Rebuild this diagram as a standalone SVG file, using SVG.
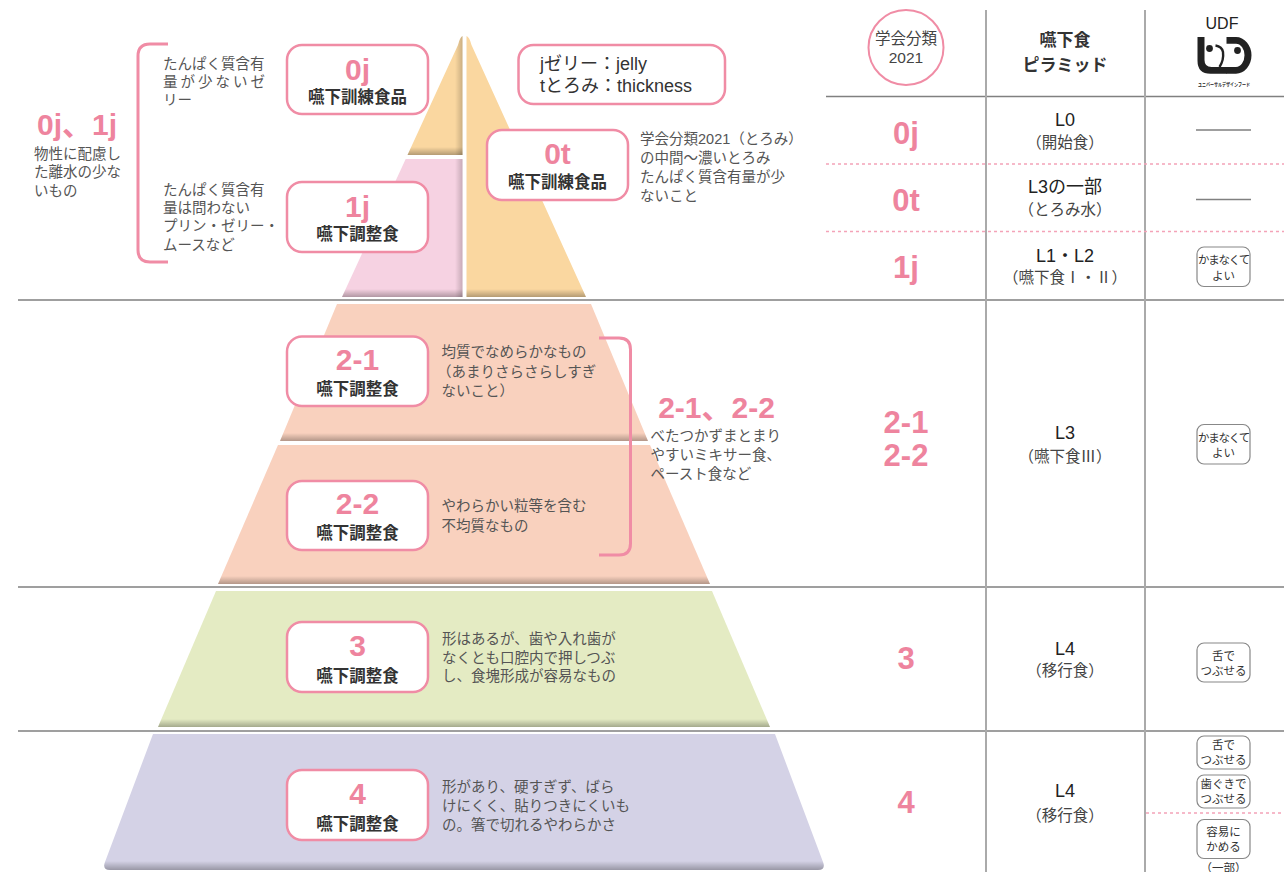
<svg xmlns="http://www.w3.org/2000/svg" width="1284" height="872" viewBox="0 0 1284 872">
<style>
.num{font-family:"Liberation Sans","Noto Sans CJK JP",sans-serif;font-weight:700;fill:#EE849E;text-anchor:middle}
.lbl{font-family:"Noto Sans CJK JP",sans-serif;font-weight:700;fill:#333;font-size:16.5px;text-anchor:middle}
.desc{font-family:"Liberation Sans","Noto Sans CJK JP",sans-serif;fill:#555;font-size:14.5px}
.box{fill:#fff;stroke:#F08CA5;stroke-width:2.5}
.brk{fill:none;stroke:#F08CA5;stroke-width:3}
.tl{font-family:"Liberation Sans","Noto Sans CJK JP",sans-serif;fill:#222;text-anchor:middle;font-size:18px}
.ts{font-family:"Liberation Sans","Noto Sans CJK JP",sans-serif;fill:#444;text-anchor:middle;font-size:15.5px}
.badge{fill:#fff;stroke:#888;stroke-width:1.2}
.bt{font-family:"Noto Sans CJK JP",sans-serif;fill:#333;text-anchor:middle;font-size:11.5px}
.gl{stroke:#808080;stroke-width:1.5;fill:none}
.vl{stroke:#aaa;stroke-width:2;fill:none}
.pd{stroke:#F4A3B8;stroke-width:1.3;stroke-dasharray:3 3;fill:none}
.shade{fill:url(#shadeV)}
</style>
<defs>
<linearGradient id="shadeV" x1="0" y1="0" x2="0" y2="1">
<stop offset="0" stop-color="#000" stop-opacity="0"/>
<stop offset="1" stop-color="#000" stop-opacity="0.28"/>
</linearGradient>
<linearGradient id="shadeH" x1="0" y1="0" x2="1" y2="0">
<stop offset="0" stop-color="#000" stop-opacity="0"/>
<stop offset="1" stop-color="#000" stop-opacity="0.2"/>
</linearGradient>
<path id="sLO" d="M462.5,36 L462.5,155 L407.5,155 L458,45 Q460,37 462.5,36 Z"/>
<path id="sPK" d="M462.5,159 V297 H342 L405.7,159 Z"/>
<path id="sRO" d="M466.5,36 Q469.5,37 471.5,45 L586,297 H466.5 Z"/>
<path id="s21" d="M337,304 H591 L648,441 H280 Z"/>
<path id="s22" d="M278,445 H650 L710,584 H218 Z"/>
<path id="s3" d="M216,591 H712 L770,727 H158 Z"/>
<path id="s4" d="M153,734 H775 L823,862 Q826,870 818,870 H110 Q102,870 105,862 Z"/>
<clipPath id="cLO"><use href="#sLO"/></clipPath>
<clipPath id="cPK"><use href="#sPK"/></clipPath>
<clipPath id="cRO"><use href="#sRO"/></clipPath>
<clipPath id="c21"><use href="#s21"/></clipPath>
<clipPath id="c22"><use href="#s22"/></clipPath>
<clipPath id="c3"><use href="#s3"/></clipPath>
<clipPath id="c4"><use href="#s4"/></clipPath>
</defs>
<rect width="1284" height="872" fill="#fff"/>

<g id="pyramid">
<use href="#sLO" fill="#FAD7A0"/>
<rect x="400" y="147" width="70" height="8" class="shade" clip-path="url(#cLO)"/>
<rect x="455" y="30" width="8" height="130" fill="url(#shadeH)" clip-path="url(#cLO)"/>
<use href="#sPK" fill="#F6D2E2"/>
<rect x="330" y="289" width="140" height="8" class="shade" clip-path="url(#cPK)"/>
<rect x="455" y="155" width="8" height="145" fill="url(#shadeH)" clip-path="url(#cPK)"/>
<use href="#sRO" fill="#FAD7A0"/>
<rect x="460" y="289" width="130" height="8" class="shade" clip-path="url(#cRO)"/>
<use href="#s21" fill="#F9D1BE"/>
<rect x="270" y="433" width="390" height="8" class="shade" clip-path="url(#c21)"/>
<use href="#s22" fill="#F9D1BE"/>
<rect x="210" y="576" width="510" height="8" class="shade" clip-path="url(#c22)"/>
<use href="#s3" fill="#E4EBC3"/>
<rect x="150" y="719" width="630" height="8" class="shade" clip-path="url(#c3)"/>
<use href="#s4" fill="#D4D2E6"/>
<rect x="95" y="861" width="740" height="9" class="shade" clip-path="url(#c4)"/>
</g>

<g id="lines">
<path class="gl" d="M826,96.5 H1284 M18,300 H1284 M18,587 H1284 M18,731 H1284"/>
<path class="vl" d="M986,10 V872 M1145,10 V872"/>
<path class="pd" d="M826,164 H1284 M826,231.5 H1284 M1146,813 H1284"/>
<path class="gl" d="M1196,130 H1251 M1196,199.5 H1251"/>
</g>

<g id="connectors">
<path class="brk" d="M168,44 H150 Q138,44 138,56 V250 Q138,262 150,262 H168"/>
<path class="brk" d="M599,338 H619 Q630.5,338 630.5,349.5 V543.5 Q630.5,555 619,555 H599"/>
</g>

<g id="note-0j1j">
<text class="num" x="77" y="135" font-size="30">0j、1j</text>
<text class="desc" x="34" y="158.8">物性に配慮し</text>
<text class="desc" x="34" y="177.2">た離水の少な</text>
<text class="desc" x="34" y="195.5">いもの</text>
</g>

<g id="desc-0j">
<text class="desc" x="163" y="68.8">たんぱく質含有</text>
<text class="desc" x="163" y="86.8" textLength="102" lengthAdjust="spacing">量 が 少 な い ゼ</text>
<text class="desc" x="163" y="104.5">リー</text>
</g>
<g id="desc-1j">
<text class="desc" x="163" y="194.8">たんぱく質含有</text>
<text class="desc" x="163" y="213.1">量は問わない</text>
<text class="desc" x="163" y="231.4">プリン・ゼリー・</text>
<text class="desc" x="163" y="249.7">ムースなど</text>
</g>

<g id="node-0j">
<rect class="box" x="287" y="45" width="141" height="69" rx="15"/>
<text class="num" x="357.5" y="80" font-size="30">0j</text>
<text class="lbl" x="357.5" y="103.2">嚥下訓練食品</text>
</g>
<g id="node-1j">
<rect class="box" x="287" y="182" width="141" height="70" rx="15"/>
<text class="num" x="357.5" y="217" font-size="30">1j</text>
<text class="lbl" x="357.5" y="239.8">嚥下調整食</text>
</g>

<g id="legend">
<rect class="box" x="518.5" y="45" width="206.5" height="59" rx="15"/>
<text x="540" y="70" font-family="Liberation Sans, Noto Sans CJK JP, sans-serif" font-size="18" fill="#333">jゼリー：jelly</text>
<text x="540" y="91.5" font-family="Liberation Sans, Noto Sans CJK JP, sans-serif" font-size="18" fill="#333">tとろみ：thickness</text>
</g>

<g id="node-0t">
<rect class="box" x="487" y="130" width="141" height="70" rx="15"/>
<text class="num" x="557.5" y="163.5" font-size="30">0t</text>
<text class="lbl" x="557.5" y="188.2">嚥下訓練食品</text>
</g>
<g id="desc-0t">
<text class="desc" x="640" y="143.8" font-size="14">学会分類2021（とろみ）</text>
<text class="desc" x="640" y="163.2" font-size="14">の中間〜濃いとろみ</text>
<text class="desc" x="640" y="182.2" font-size="14">たんぱく質含有量が少</text>
<text class="desc" x="640" y="200.5" font-size="14">ないこと</text>
</g>

<g id="node-2-1">
<rect class="box" x="287" y="336.5" width="141" height="69.5" rx="15"/>
<text class="num" x="357.5" y="370" font-size="30">2-1</text>
<text class="lbl" x="357.5" y="394.8">嚥下調整食</text>
<text class="desc" x="441.5" y="357.2">均質でなめらかなもの</text>
<text class="desc" x="437" y="376.5">（あまりさらさらしすぎ</text>
<text class="desc" x="441.5" y="395.5">ないこと）</text>
</g>
<g id="node-2-2">
<rect class="box" x="287" y="481" width="141" height="69" rx="15"/>
<text class="num" x="357.5" y="513.5" font-size="30">2-2</text>
<text class="lbl" x="357.5" y="538.8">嚥下調整食</text>
<text class="desc" x="441.5" y="511.2">やわらかい粒等を含む</text>
<text class="desc" x="441.5" y="530.5">不均質なもの</text>
</g>
<g id="note-2">
<text class="num" x="716.5" y="418" font-size="30">2-1、2-2</text>
<text class="desc" x="650.5" y="440.5">べたつかずまとまり</text>
<text class="desc" x="650.5" y="459.8">やすいミキサー食、</text>
<text class="desc" x="650.5" y="478.8">ペースト食など</text>
</g>

<g id="node-3">
<rect class="box" x="287" y="622" width="141" height="70" rx="15"/>
<text class="num" x="357.5" y="655.5" font-size="30">3</text>
<text class="lbl" x="357.5" y="681.5">嚥下調整食</text>
<text class="desc" x="442" y="643.8">形はあるが、歯や入れ歯が</text>
<text class="desc" x="442" y="662.5">なくとも口腔内で押しつぶ</text>
<text class="desc" x="442" y="681.2">し、食塊形成が容易なもの</text>
</g>
<g id="node-4">
<rect class="box" x="287" y="770" width="141" height="70" rx="15"/>
<text class="num" x="357.5" y="804" font-size="30">4</text>
<text class="lbl" x="357.5" y="829.8">嚥下調整食</text>
<text class="desc" x="442" y="792.2">形があり、硬すぎず、ばら</text>
<text class="desc" x="442" y="811.2">けにくく、貼りつきにくいも</text>
<text class="desc" x="442" y="829.8">の。箸で切れるやわらかさ</text>
</g>

<g id="table-header">
<circle cx="906" cy="47.5" r="37.5" fill="#fff" stroke="#F08CA5" stroke-width="2"/>
<text class="ts" x="906" y="44" font-size="15">学会分類</text>
<text class="ts" x="906" y="63" font-size="15">2021</text>
<text x="1065" y="45.5" font-family="Noto Sans CJK JP, sans-serif" font-weight="700" font-size="17" fill="#333" text-anchor="middle">嚥下食</text>
<text x="1065" y="71" font-family="Noto Sans CJK JP, sans-serif" font-weight="700" font-size="17" fill="#333" text-anchor="middle">ピラミッド</text>
<text x="1222" y="28.5" font-family="Liberation Sans, sans-serif" font-size="16" fill="#222" text-anchor="middle">UDF</text>
<g id="udf-logo" fill="#222">
<path d="M1197.5,37 h7 v23 q0,7 7,7 h15 v6.7 h-16 q-13,0 -13,-13 z"/>
<path d="M1215.5,45.5 q6.5,1 7.5,6.5 q1,8 -3.5,15" fill="none" stroke="#222" stroke-width="2.4"/>
<path d="M1226.5,37 h9.5 a15.5,18.35 0 0 1 0,36.7 h-10 v-6.7 h10 a8.5,11.65 0 0 0 0,-23.3 h-9.5 z"/>
<circle cx="1209.5" cy="48.5" r="3.4"/>
<circle cx="1237.5" cy="50.5" r="3.4"/>
</g>
<text x="1224" y="86" font-family="Noto Sans CJK JP, sans-serif" font-weight="700" font-size="5" fill="#222" text-anchor="middle" textLength="52" lengthAdjust="spacingAndGlyphs">ユニバーサルデザインフード</text>
</g>

<g id="row-0j">
<text class="num" x="906" y="144" font-size="31">0j</text>
<text class="tl" x="1065" y="126">L0</text>
<text class="ts" x="1065" y="147.7">（開始食）</text>
</g>
<g id="row-0t">
<text class="num" x="906" y="211" font-size="31">0t</text>
<text class="tl" x="1065" y="193.3">L3の一部</text>
<text class="ts" x="1065" y="215.3">（とろみ水）</text>
</g>
<g id="row-1j">
<text class="num" x="906" y="278" font-size="31">1j</text>
<text class="tl" x="1065" y="261.7">L1・L2</text>
<text class="ts" x="1065" y="283.3">（嚥下食Ⅰ・Ⅱ）</text>
<rect class="badge" x="1197" y="247" width="53" height="39.5" rx="7"/>
<text class="bt" x="1223.5" y="264" letter-spacing="-1.2">かまなくて</text>
<text class="bt" x="1223.5" y="279.5">よい</text>
</g>
<g id="row-2">
<text class="num" x="906" y="432.7" font-size="31">2-1</text>
<text class="num" x="906" y="466" font-size="31">2-2</text>
<text class="tl" x="1065" y="439.3">L3</text>
<text class="ts" x="1065" y="461.7">（嚥下食Ⅲ）</text>
<rect class="badge" x="1197" y="424.5" width="53" height="39.5" rx="7"/>
<text class="bt" x="1223.5" y="441.7" letter-spacing="-1.2">かまなくて</text>
<text class="bt" x="1223.5" y="457">よい</text>
</g>
<g id="row-3">
<text class="num" x="906" y="669" font-size="31">3</text>
<text class="tl" x="1065" y="655">L4</text>
<text class="ts" x="1065" y="676">（移行食）</text>
<rect class="badge" x="1197" y="643" width="53" height="39" rx="7"/>
<text class="bt" x="1223.5" y="660">舌で</text>
<text class="bt" x="1223.5" y="675">つぶせる</text>
</g>
<g id="row-4">
<text class="num" x="906" y="812.7" font-size="31">4</text>
<text class="tl" x="1065" y="797.3">L4</text>
<text class="ts" x="1065" y="821">（移行食）</text>
<rect class="badge" x="1197" y="736" width="53" height="33" rx="7"/>
<text class="bt" x="1223.5" y="749">舌で</text>
<text class="bt" x="1223.5" y="764">つぶせる</text>
<rect class="badge" x="1197" y="775" width="53" height="33" rx="7"/>
<text class="bt" x="1223.5" y="788.2">歯ぐきで</text>
<text class="bt" x="1223.5" y="802.5">つぶせる</text>
<rect class="badge" x="1197" y="819.5" width="53" height="39" rx="7"/>
<text class="bt" x="1223.5" y="836">容易に</text>
<text class="bt" x="1223.5" y="851">かめる</text>
<text class="bt" x="1223.5" y="872" font-size="12.5">（一部）</text>
</g>
</svg>
